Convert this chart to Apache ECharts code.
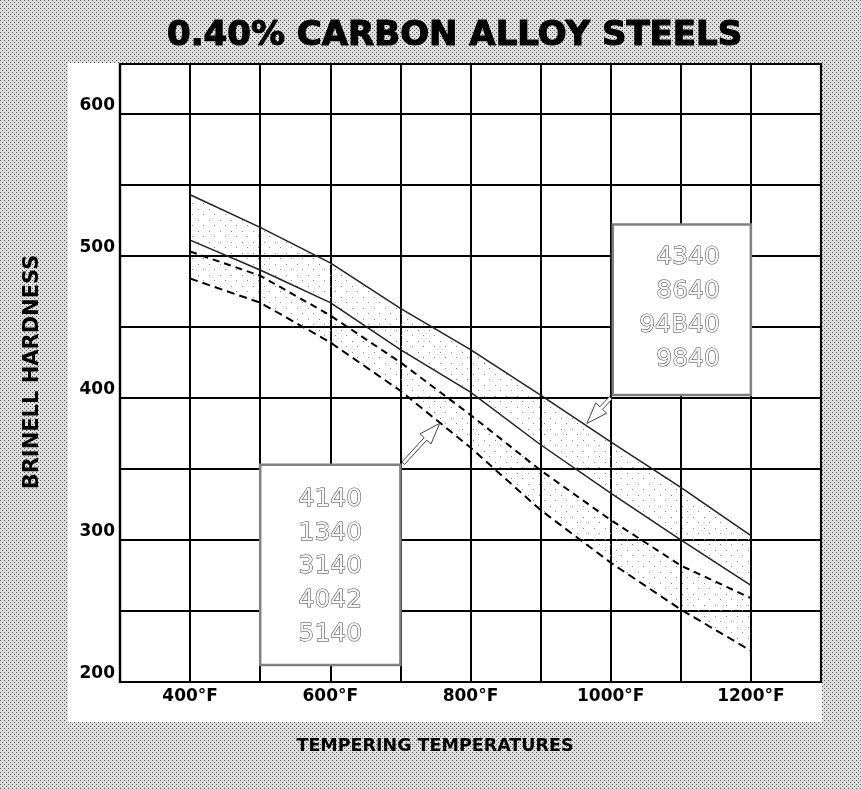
<!DOCTYPE html>
<html>
<head>
<meta charset="utf-8">
<script src="https://cdn.jsdelivr.net/npm/echarts@6/dist/echarts.min.js"></script>
<style>
html, body { margin: 0; padding: 0; background: #d0d0d0; }
#chart { width: 862px; height: 789px; }
</style>
</head>
<body>
<div id="chart"></div>
<script>
// tempering temperatures (°F) where the curves were read
var temps = [400, 500, 600, 700, 800, 900, 1000, 1100, 1200];
// 4340 / 8640 / 94B40 / 9840 band, solid edges
var curveA = [543, 520, 495, 463, 434, 402, 369, 337, 303];
var curveB = [511, 490, 467, 434, 404, 367, 333, 300, 268];
// 4140 / 1340 / 3140 / 4042 / 5140 band, dashed edges
var curveC = [503, 486, 458, 425, 388, 349, 314, 282, 259];
var curveD = [484, 467, 439, 405, 365, 321, 284, 251, 222];
// tick labels
var xTickLabels = [400, 600, 800, 1000, 1200];
var yTickLabels = [200, 300, 400, 500, 600];
// steel grades in the two boxes
var gradesHigh = ['4340', '8640', '94B40', '9840'];
var gradesLow = ['4140', '1340', '3140', '4042', '5140'];

var FONT = 'DejaVu Sans';
var myChart = echarts.init(document.getElementById('chart'));

function pairs(vals) {
    return temps.map(function (t, i) { return [t, vals[i]]; });
}

// little canvases used as fill patterns (halftone paper, stippled band)
function dots(size, color, bg) {
    var c = document.createElement('canvas');
    c.width = c.height = size;
    var g = c.getContext('2d');
    if (bg) { g.fillStyle = bg; g.fillRect(0, 0, size, size); }
    g.fillStyle = color;
    g.fillRect(0, 0, 1, 1);
    g.fillRect(size >> 1, size >> 1, 1, 1);
    return c;
}
var paper = dots(4, '#555', '#dedede');
var stipple = dots(11, '#8a8a8a', null);

var bands = [[curveA, curveB], [curveC, curveD]];

var option = {
    animation: false,
    title: {
        text: '0.40% CARBON ALLOY STEELS',
        left: 162,
        top: 14,
        textStyle: {
            fontFamily: FONT, fontWeight: 'bold', fontSize: 34, color: '#000',
            textBorderColor: '#000', textBorderWidth: 1.2
        }
    },
    grid: {
        left: 120, right: 41, top: 64, bottom: 107,
        show: true, backgroundColor: '#fff', borderColor: '#000', borderWidth: 2.2
    },
    xAxis: {
        type: 'value', min: 300, max: 1300, interval: 100,
        axisLine: { show: true, lineStyle: { color: '#000', width: 2.2 } },
        axisTick: { show: false },
        splitLine: { show: true, lineStyle: { color: '#000', width: 2 } },
        axisLabel: {
            margin: 6, fontFamily: FONT, fontWeight: 'bold', fontSize: 17, color: '#000',
            formatter: function (v) { return xTickLabels.indexOf(v) >= 0 ? v + '°F' : ''; }
        }
    },
    yAxis: {
        type: 'value', min: 200, max: 635, interval: 50,
        axisLine: { show: true, lineStyle: { color: '#000', width: 2.2 } },
        axisTick: { show: false },
        splitLine: { show: true, lineStyle: { color: '#000', width: 2 } },
        axisLabel: {
            margin: 5, verticalAlign: 'bottom', fontFamily: FONT, fontWeight: 'bold', fontSize: 17, color: '#000',
            formatter: function (v) { return yTickLabels.indexOf(v) >= 0 ? String(v) : ''; }
        }
    },
    series: [
        {
            // stippled fill between the edges of each band
            type: 'custom',
            silent: true,
            z: 1,
            data: bands.map(function (b) { return [temps[0], b[0][0]]; }),
            renderItem: function (params, api) {
                var b = bands[params.dataIndex];
                var pts = [];
                temps.forEach(function (t, i) { pts.push(api.coord([t, b[0][i]])); });
                for (var i = temps.length - 1; i >= 0; i--) pts.push(api.coord([temps[i], b[1][i]]));
                return {
                    type: 'polygon',
                    shape: { points: pts },
                    style: { fill: { image: stipple, repeat: 'repeat' } }
                };
            }
        },
        { type: 'line', data: pairs(curveA), symbol: 'none', silent: true, z: 3,
          lineStyle: { color: '#222', width: 1.5 } },
        { type: 'line', data: pairs(curveB), symbol: 'none', silent: true, z: 3,
          lineStyle: { color: '#222', width: 1.5 } },
        { type: 'line', data: pairs(curveC), symbol: 'none', silent: true, z: 3,
          lineStyle: { color: '#000', width: 2, type: [7, 5] } },
        { type: 'line', data: pairs(curveD), symbol: 'none', silent: true, z: 3,
          lineStyle: { color: '#000', width: 2, type: [8, 5] } }
    ]
};
myChart.setOption(option);

// annotations: boxes and arrows anchored in data coordinates
function px(p) { return myChart.convertToPixel({ gridIndex: 0 }, p); }

function arrow(tail, tip) {
    var a = px(tail), b = px(tip);
    var dx = b[0] - a[0], dy = b[1] - a[1];
    var len = Math.sqrt(dx * dx + dy * dy);
    var ux = dx / len, uy = dy / len, nx = -uy, ny = ux;
    var sh = 1.8, hh = 7.5, hl = 21;
    var bx = b[0] - ux * hl, by = b[1] - uy * hl;
    return {
        type: 'polygon', z: 100,
        shape: { points: [
            [a[0] + nx * sh, a[1] + ny * sh], [bx + nx * sh, by + ny * sh], [bx + nx * hh, by + ny * hh],
            b, [bx - nx * hh, by - ny * hh], [bx - nx * sh, by - ny * sh], [a[0] - nx * sh, a[1] - ny * sh]
        ] },
        style: { fill: '#fff', stroke: '#444', lineWidth: 1 }
    };
}

function gradeBox(p0, p1, grades, align, dxText, firstDy, step) {
    var a = px(p0), b = px(p1);
    var els = [{
        type: 'rect', z: 90,
        shape: { x: a[0], y: a[1], width: b[0] - a[0], height: b[1] - a[1] },
        style: { fill: '#fff', stroke: '#808080', lineWidth: 2.5 }
    }];
    var tx = align === 'right' ? b[0] - dxText : (a[0] + b[0]) / 2;
    grades.forEach(function (g, i) {
        els.push({
            type: 'text', z: 95,
            x: tx, y: a[1] + firstDy + i * step,
            style: {
                text: g, fontFamily: FONT, fontSize: 25, align: align, verticalAlign: 'middle',
                fill: '#f6f6f6', stroke: '#3a3a3a', lineWidth: 1
            }
        });
    });
    return els;
}

var graphics = [
    { type: 'rect', z: -10, shape: { x: 0, y: 0, width: 862, height: 789 },
      style: { fill: { image: paper, repeat: 'repeat' } } },
    { type: 'rect', z: -9, shape: { x: 68, y: 63, width: 754, height: 659 }, style: { fill: '#fff' } },
    { type: 'text', z: 10, x: 33, y: 372, rotation: Math.PI / 2,
      style: { text: 'BRINELL HARDNESS', fontFamily: FONT, fontWeight: 'bold', fontSize: 21,
               fill: '#000', align: 'center', verticalAlign: 'middle' } },
    { type: 'text', z: 10, x: 435, y: 746,
      style: { text: 'TEMPERING TEMPERATURES', fontFamily: FONT, fontWeight: 'bold', fontSize: 17.5,
               fill: '#000', align: 'center', verticalAlign: 'middle' } }
]
    .concat(gradeBox([1003, 522], [1200, 402], gradesHigh, 'right', 31, 33, 34))
    .concat(gradeBox([500, 353], [700, 212], gradesLow, 'center', 0, 35, 33.6))
    .concat([arrow([1000, 400], [966, 382]), arrow([704, 354], [756, 382])]);

myChart.setOption({ graphic: graphics });
</script>
</body>
</html>
